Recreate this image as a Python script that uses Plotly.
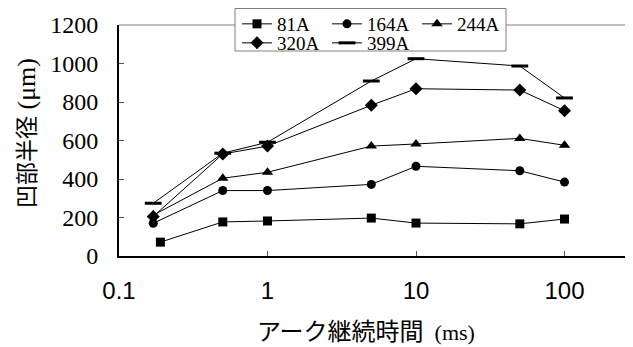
import plotly.graph_objects as go

# ---- data ----
time_ms = [0.17, 0.5, 1, 5, 10, 50, 100]
time_ms_81 = [0.19, 0.5, 1, 5, 10, 50, 100]
radius_81A = [72, 177, 182, 197, 171, 167, 192]
radius_164A = [170, 340, 340, 372, 466, 443, 384]
radius_244A = [212, 404, 435, 571, 582, 611, 575]
radius_320A = [205, 530, 571, 783, 869, 862, 755]
radius_399A = [274, 534, 591, 909, 1025, 987, 821]
series_names = ["81A", "164A", "244A", "320A", "399A"]
x_tick_vals = [0.1, 1, 10, 100]
x_tick_text = ["0.1", "1", "10", "100"]
y_tick_vals = [0, 200, 400, 600, 800, 1000, 1200]

SERIF = "Liberation Serif, Times New Roman, serif"
SANS = "Liberation Sans, Arial, sans-serif"
CJK = "Noto Sans CJK JP"

# the page body adds an 8px offset; work in window pixels and subtract it
OFF = 8
W, H = 633 - OFF, 347 - OFF
ML, MR, MT, MB = 119 - OFF, 0, 25 - OFF, 347 - 256
PW, PH = W - ML - MR, H - MT - MB


def px_x(px):  # window pixel -> paper fraction
    return (px - OFF - ML) / PW


def px_y(py):
    return (H - MB - (py - OFF)) / PH


styles = [
    dict(symbol="square", size=9, color="black"),
    dict(symbol="circle", size=9, color="black"),
    dict(symbol="triangle-up", size=10, color="black"),
    dict(symbol="diamond", size=10, color="black"),
    dict(symbol="line-ew", size=12, color="black", line=dict(color="black", width=3)),
]
xs = [time_ms_81, time_ms, time_ms, time_ms, time_ms]
ys = [radius_81A, radius_164A, radius_244A, radius_320A, radius_399A]
legend_ids = ["legend", "legend", "legend", "legend2", "legend2"]

fig = go.Figure()
for name, x, y, st, lg in zip(series_names, xs, ys, styles, legend_ids):
    fig.add_trace(go.Scatter(
        x=x, y=y, name=name, mode="lines+markers",
        line=dict(color="black", width=1),
        marker=st, legend=lg,
    ))

legend_common = dict(
    orientation="h", bgcolor="rgba(0,0,0,0)", borderwidth=0,
    font=dict(family=SERIF, size=19, color="black"),
    xanchor="left", yanchor="middle", entrywidth=45, entrywidthmode="pixels",
    itemclick=False, itemdoubleclick=False, tracegroupgap=0,
)

fig.update_layout(
    width=W, height=H,
    margin=dict(l=ML, r=MR, t=MT, b=MB, autoexpand=False),
    paper_bgcolor="white", plot_bgcolor="white",
    showlegend=True,
    legend=dict(legend_common, x=px_x(237), y=px_y(24)),
    legend2=dict(legend_common, x=px_x(237), y=px_y(43)),
    xaxis=dict(
        type="log", range=[-1, -1 + PW / 148.5],
        tickvals=x_tick_vals, ticktext=x_tick_text,
        ticks="inside", ticklen=5, tickwidth=1, tickcolor="#555",
        showline=True, linecolor="black", linewidth=2,
        showgrid=False, zeroline=False,
        tickfont=dict(family=SANS, size=24, color="black"),
        ticklabelstandoff=12,
    ),
    yaxis=dict(
        range=[0, 1200], tickvals=y_tick_vals,
        ticks="inside", ticklen=5, tickwidth=1, tickcolor="#555",
        showline=True, linecolor="black", linewidth=2,
        showgrid=False, zeroline=False,
        tickfont=dict(family=SERIF, size=24, color="black"),
        ticklabelstandoff=14,
    ),
    shapes=[
        dict(type="line", xref="paper", yref="paper", x0=0, x1=1, y0=1, y1=1,
             line=dict(color="#808080", width=1), layer="above"),
        dict(type="rect", xref="paper", yref="paper",
             x0=px_x(235), x1=px_x(506), y0=px_y(51), y1=px_y(8.5),
             fillcolor="white", line=dict(color="#808080", width=1), layer="above"),
    ],
    annotations=[
        dict(xref="paper", yref="paper", x=px_x(25), y=px_y(133),
             xanchor="center", yanchor="middle", textangle=-90, showarrow=False,
             text=(f'<span style="font-family:{CJK}">凹部半径</span>'
                   f'<span style="font-family:{SERIF};font-size:26px"> (μm)</span>'),
             font=dict(size=23, color="black", family=CJK)),
        dict(xref="paper", yref="paper", x=px_x(255), y=px_y(329),
             xanchor="left", yanchor="middle", showarrow=False,
             text=(f'<span style="font-family:{CJK}">アーク継続時間</span>'
                   f'<span style="font-family:{SERIF};font-size:22px">\u00a0\u00a0(ms)</span>'),
             font=dict(size=24, color="black", family=CJK)),
    ],
)

fig.write_html("out.html")
